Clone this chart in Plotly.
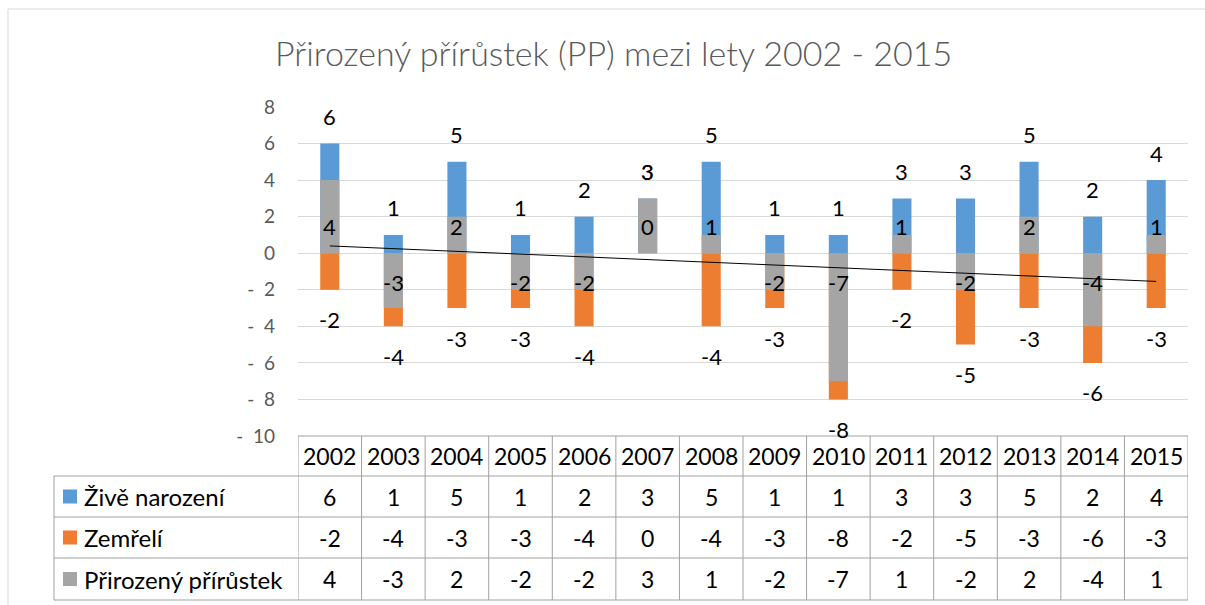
import numpy as np
import plotly.graph_objects as go

years = [str(y) for y in range(2002, 2016)]
births = [6, 1, 5, 1, 2, 3, 5, 1, 1, 3, 3, 5, 2, 4]
deaths = [-2, -4, -3, -3, -4, 0, -4, -3, -8, -2, -5, -3, -6, -3]
natural = [4, -3, 2, -2, -2, 3, 1, -2, -7, 1, -2, 2, -4, 1]
series_names = ["Živě narození", "Zemřelí", "Přirozený přírůstek"]
y_ticks = [8, 6, 4, 2, 0, -2, -4, -6, -8, -10]
title_text = "Přirozený přírůstek (PP) mezi lety 2002 - 2015"

BLUE, ORANGE, GRAY = "#5b9bd5", "#ed7d31", "#a5a5a5"
FONT = "Lato"
FIG_W, FIG_H = 1205, 605
L, R, T, B = 298, 17, 107, 169
PW, PH = FIG_W - L - R, FIG_H - T - B


def px_x(p):
    return (p - L) / PW


def px_y(p):
    return (T + PH - p) / PH


def tick_label(v):
    return str(v) if v >= 0 else "-\u00a0\u00a0" + str(-v)


fig = go.Figure()
for vals, col, name in zip([births, deaths, natural], [BLUE, ORANGE, GRAY], series_names):
    fig.add_trace(go.Bar(x=years, y=vals, name=name, marker_color=col,
                         marker_line_width=0, width=0.3, showlegend=False))

idx = np.arange(1, len(years) + 1)
slope, intercept = np.polyfit(idx, natural, 1)
trend = slope * idx + intercept
fig.add_trace(go.Scatter(x=years, y=trend, mode="lines",
                         line=dict(color="black", width=1), showlegend=False))

ann = []
lab_font = dict(family=FONT, size=22, color="black")
UP, DOWN = 27, -30
for i, yr in enumerate(years):
    b, d, n = births[i], deaths[i], natural[i]
    ann.append(dict(x=i, y=b, text=str(b), showarrow=False, yshift=UP,
                    yanchor="middle", font=lab_font))
    ann.append(dict(x=i, y=d, text=str(d), showarrow=False, yanchor="middle",
                    yshift=UP if d >= 0 else DOWN, font=lab_font))
    if d == 0:
        ann.append(dict(x=i, y=n, text=str(n), showarrow=False, yshift=UP,
                        yanchor="middle", font=lab_font))
    else:
        ann.append(dict(x=i, y=0, text=str(n), showarrow=False, yanchor="middle",
                        yshift=UP if n >= 0 else -29, font=lab_font))

# data table
tab_font = dict(family=FONT, size=23, color="black")
leg_font = dict(family=FONT, size=24, color="black")
row_edges = [436, 476, 517, 558, 600]
header_c = (row_edges[0] + row_edges[1]) / 2
for i, yr in enumerate(years):
    ann.append(dict(x=i, y=px_y(header_c), yref="paper", text=yr, showarrow=False,
                    yanchor="middle", font=tab_font))
rows = [births, deaths, natural]
for r, (vals, col, name) in enumerate(zip(rows, [BLUE, ORANGE, GRAY], series_names)):
    cy = (row_edges[r + 1] + row_edges[r + 2]) / 2
    for i, yr in enumerate(years):
        ann.append(dict(x=i, y=px_y(cy), yref="paper", text=str(vals[i]),
                        yanchor="middle", showarrow=False, font=tab_font))
    ann.append(dict(x=px_x(82), xref="paper", y=px_y(cy), yref="paper", text=name,
                    xanchor="left", yanchor="middle", showarrow=False, font=leg_font))

ann.append(dict(x=px_x(613), xref="paper", xanchor="center", y=px_y(53), yref="paper",
                yanchor="middle", text=title_text, showarrow=False,
                font=dict(family=FONT, size=34, color="#595959", weight=300)))

shapes = []
LC = "#a0a0a0"
left_leg = px_x(54)
# horizontal lines
shapes.append(dict(type="line", xref="paper", yref="paper", x0=0, x1=1,
                   y0=px_y(row_edges[0]), y1=px_y(row_edges[0]), line=dict(color=LC, width=1)))
for e in row_edges[1:]:
    shapes.append(dict(type="line", xref="paper", yref="paper", x0=left_leg, x1=1,
                       y0=px_y(e), y1=px_y(e), line=dict(color=LC, width=1)))
# vertical lines at category boundaries
for k in range(len(years) + 1):
    shapes.append(dict(type="line", xref="x", yref="paper", x0=k - 0.5, x1=k - 0.5,
                       y0=px_y(row_edges[0]), y1=px_y(row_edges[-1]), line=dict(color=LC, width=1)))
shapes.append(dict(type="line", xref="paper", yref="paper", x0=left_leg, x1=left_leg,
                   y0=px_y(row_edges[1]), y1=px_y(row_edges[-1]), line=dict(color=LC, width=1)))
# legend keys
for r, col in enumerate([BLUE, ORANGE, GRAY]):
    cy = (row_edges[r + 1] + row_edges[r + 2]) / 2
    shapes.append(dict(type="rect", xref="paper", yref="paper", x0=px_x(63), x1=px_x(77),
                       y0=px_y(cy + 7), y1=px_y(cy - 7), fillcolor=col, line=dict(width=0)))
# chart border (top & left)
shapes.append(dict(type="line", xref="paper", yref="paper", x0=px_x(8), x1=px_x(1205),
                   y0=px_y(9), y1=px_y(9), line=dict(color="#d9d9d9", width=1)))
shapes.append(dict(type="line", xref="paper", yref="paper", x0=px_x(8), x1=px_x(8),
                   y0=px_y(9), y1=px_y(605), line=dict(color="#d9d9d9", width=1)))

fig.update_layout(
    width=FIG_W, height=FIG_H, margin=dict(l=L, r=R, t=T, b=B),
    paper_bgcolor="white", plot_bgcolor="white",
    barmode="overlay", annotations=ann, shapes=shapes,
    xaxis=dict(type="category", range=[-0.5, len(years) - 0.5], showticklabels=False,
               showgrid=False, zeroline=False, showline=False, fixedrange=True),
    yaxis=dict(range=[-10, 8], tickvals=y_ticks, ticktext=[tick_label(v) for v in y_ticks],
               showgrid=True, gridcolor="#d9d9d9", gridwidth=1, zeroline=True,
               zerolinecolor="#d9d9d9", zerolinewidth=1, showline=False,
               ticklabelstandoff=22,
               tickfont=dict(family=FONT, size=19, color="#595959")),
    font=dict(family=FONT),
)

fig.write_html("out.html", config={"displayModeBar": False},
               post_script="document.body.style.margin='0';document.body.style.overflow='hidden';")
